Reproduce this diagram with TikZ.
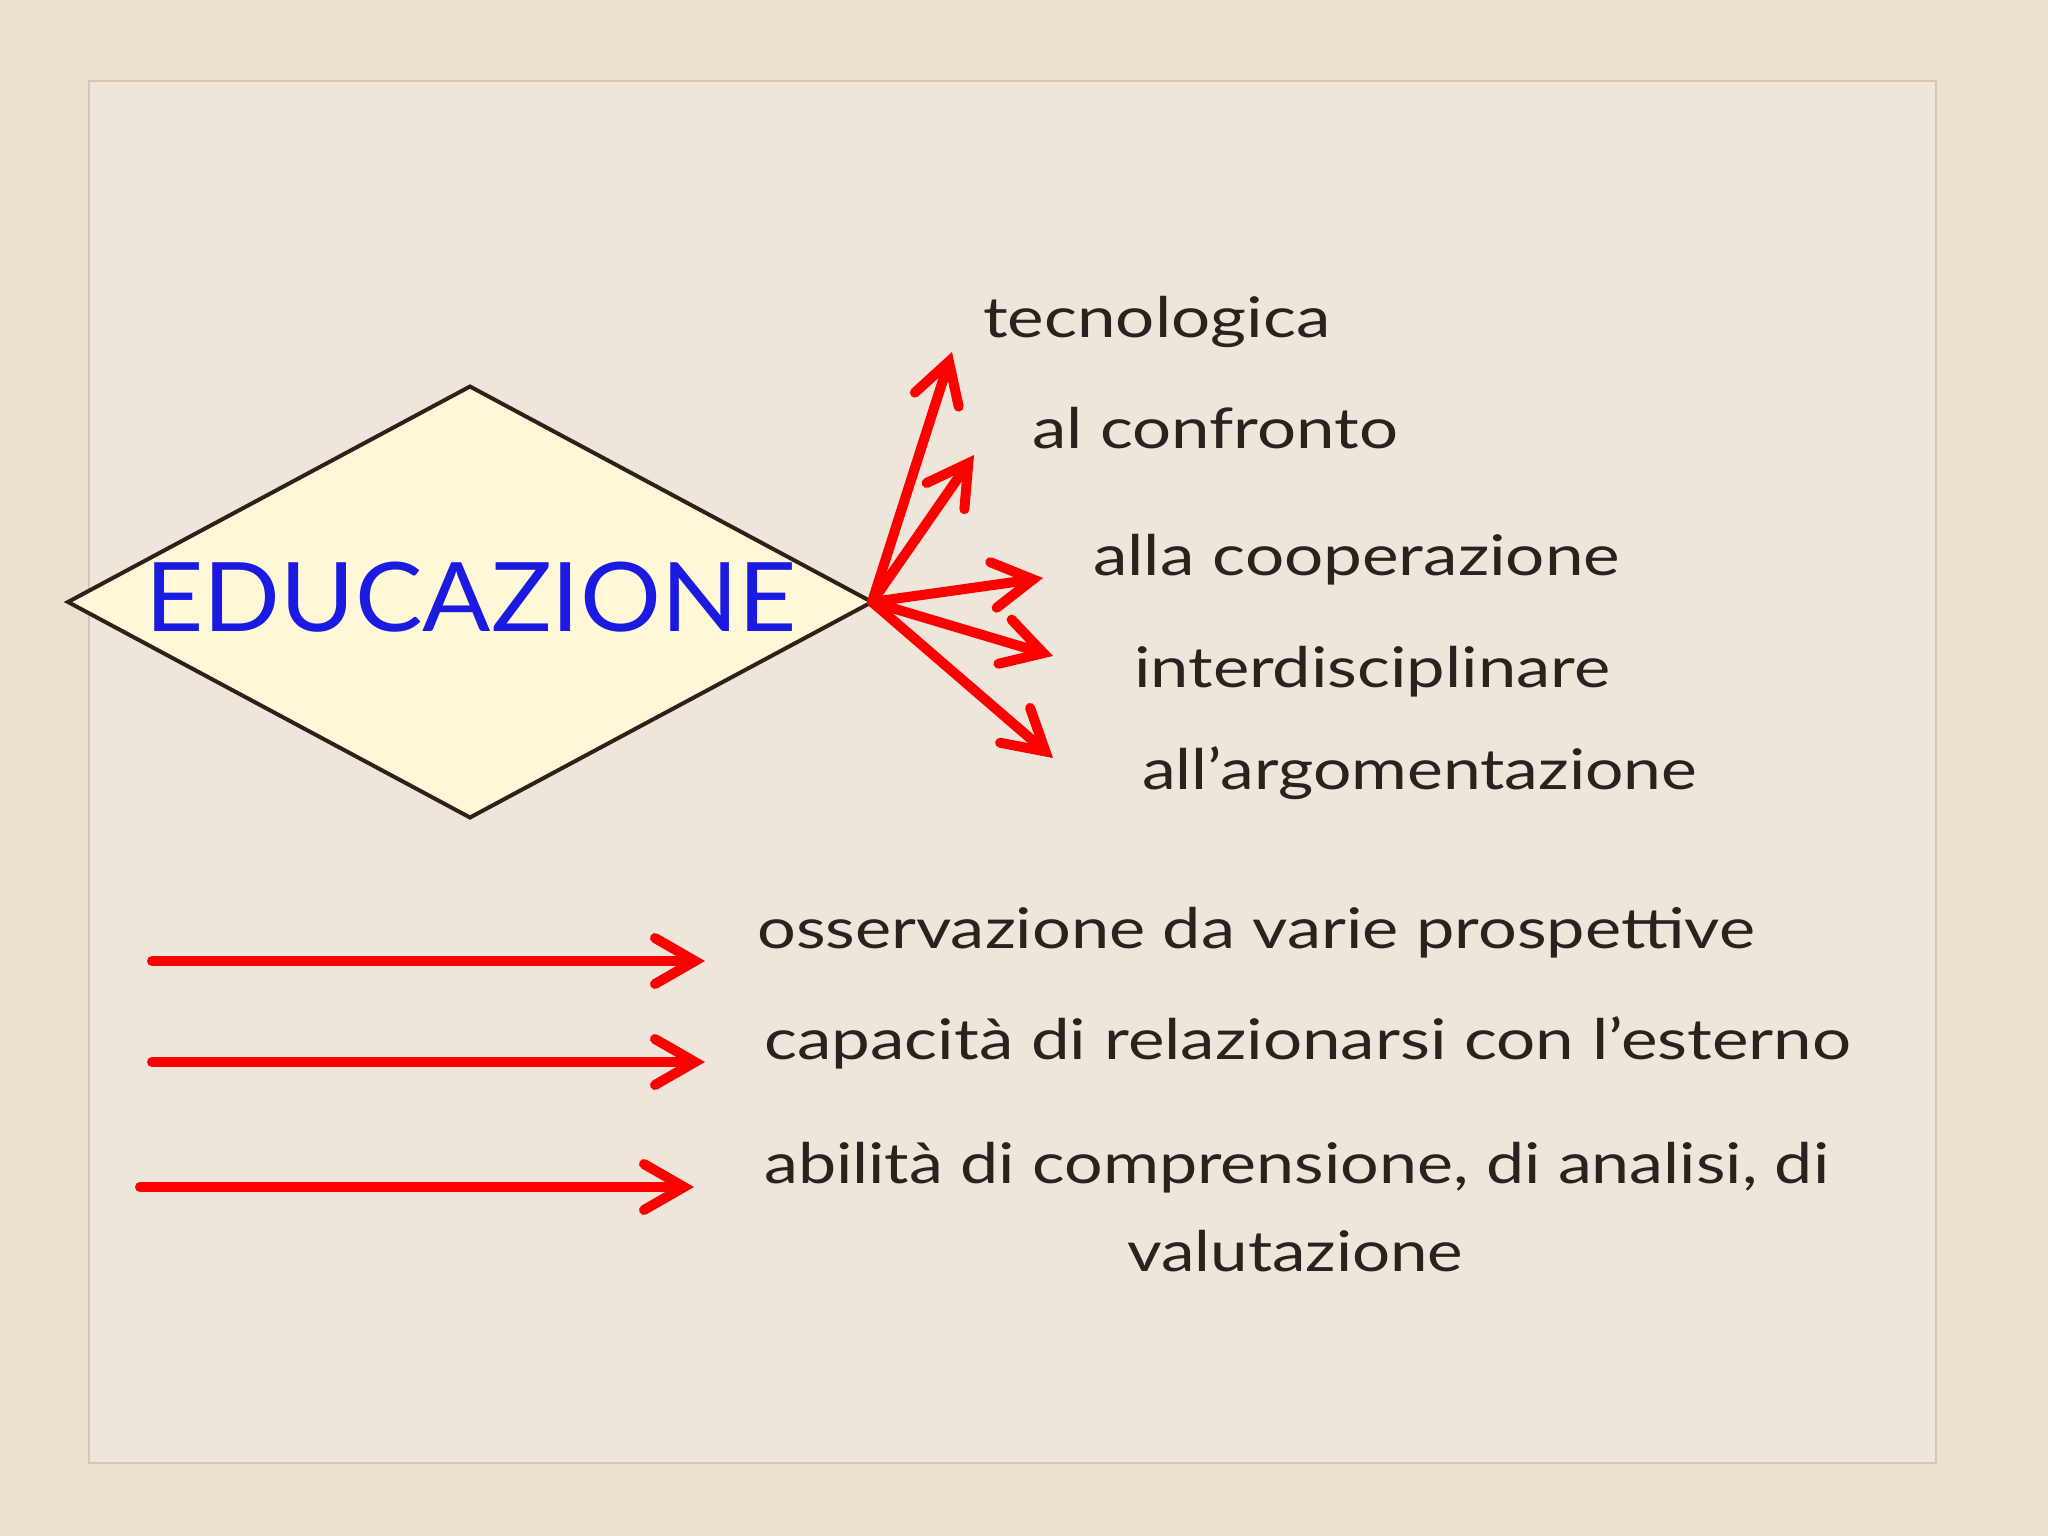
\documentclass[tikz,border=0pt]{standalone}
\usepackage{fontspec}
\setmainfont{Lato}
\usetikzlibrary{arrows.meta,shapes.geometric}
\definecolor{outerbg}{HTML}{ECE0CE}
\definecolor{paper}{HTML}{EEE6DB}
\definecolor{paperedge}{HTML}{D6C6B2}
\definecolor{dfill}{HTML}{FEF8D8}
\definecolor{dline}{HTML}{2E2218}
\definecolor{eblue}{HTML}{1A1AE0}
\definecolor{ink}{HTML}{2A221C}
\definecolor{ared}{HTML}{FF0000}
\newcommand{\fitw}[2]{\resizebox{#1}{\height}{#2}}
\begin{document}
\begin{tikzpicture}[x=1pt,y=-1pt,
  lbl/.style={anchor=base west, inner sep=0pt, text=ink, font=\fontsize{56}{68}\selectfont},
  redarrow/.style={draw=ared, line width=10pt, line cap=round,
    -{Straight Barb[length=40pt,width=46pt,line cap=round]}},
  ]
\fill[outerbg] (0,0) rectangle (2048,1536);
\useasboundingbox (0,0) rectangle (2048,1536);
\filldraw[fill=paper, draw=paperedge, line width=2.5pt] (89,81) rectangle (1936,1463);

\node[diamond, draw=dline, fill=dfill, line width=4pt, minimum width=804pt,
  minimum height=431pt, inner sep=0pt, outer sep=0pt] (edu) at (470,602) {};
\node[anchor=base, inner sep=0pt, text=eblue, font=\fontsize{96}{110}\selectfont]
  (edutitle) at (471,631) {\fitw{651pt}{EDUCAZIONE}};

\node[lbl] (l1) at (983,337) {\fitw{347pt}{tecnologica}};
\node[lbl] (l2) at (1032,448) {\fitw{366pt}{al confronto}};
\node[lbl] (l3) at (1093,575) {\fitw{527pt}{alla cooperazione}};
\node[lbl] (l4) at (1134,687) {\fitw{476pt}{interdisciplinare}};
\node[lbl] (l5) at (1142,789) {\fitw{555pt}{all’argomentazione}};
\node[lbl] (l6) at (757,948) {\fitw{998pt}{osservazione da varie prospettive}};
\node[lbl] (l7) at (764,1059) {\fitw{1087pt}{capacità di relazionarsi con l’esterno}};
\node[lbl] (l8) at (764,1183) {\fitw{1065pt}{abilità di comprensione, di analisi, di}};
\node[lbl] (l9) at (1127,1271) {\fitw{336pt}{valutazione}};

\coordinate (t1) at (952,352);
\coordinate (t2) at (974,455);
\coordinate (t3) at (1043,578);
\coordinate (t4) at (1053,656);
\coordinate (t5) at (1053,758);
\foreach \t in {t1,t2,t3,t4,t5} \draw[redarrow] (edu.east) -- (\t);

\coordinate (h1s) at (152,961);  \coordinate (h1e) at (705,961);
\coordinate (h2s) at (152,1062); \coordinate (h2e) at (705,1062);
\coordinate (h3s) at (140,1187); \coordinate (h3e) at (694,1187);
\draw[redarrow] (h1s) -- (h1e);
\draw[redarrow] (h2s) -- (h2e);
\draw[redarrow] (h3s) -- (h3e);
\end{tikzpicture}
\end{document}
